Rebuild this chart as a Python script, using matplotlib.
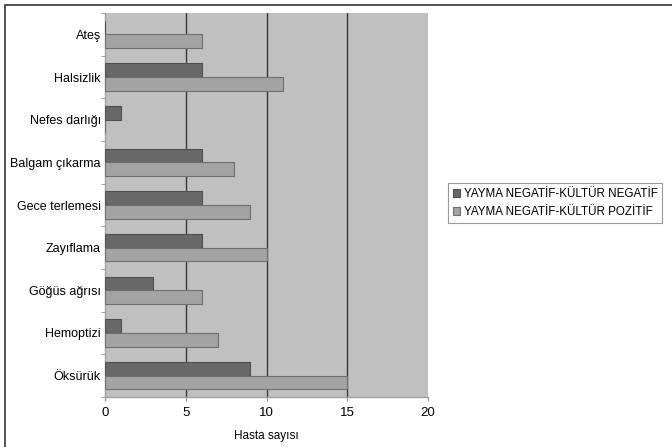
import matplotlib
matplotlib.use("Agg")
import matplotlib.pyplot as plt
import numpy as np
from matplotlib.patches import Rectangle

plt.rcParams['font.family'] = ['Liberation Sans', 'DejaVu Sans']

categories = ["Ateş", "Halsizlik", "Nefes darlığı", "Balgam çıkarma", "Gece terlemesi",
              "Zayıflama", "Göğüs ağrısı", "Hemoptizi", "Öksürük"]
neg_neg = [0, 6, 1, 6, 6, 6, 3, 1, 9]
neg_pos = [6, 11, 0, 8, 9, 10, 6, 7, 15]
series_names = ["YAYMA NEGATİF-KÜLTÜR NEGATİF", "YAYMA NEGATİF-KÜLTÜR POZİTİF"]
xticks = [0, 5, 10, 15, 20]

fig = plt.figure(figsize=(6.72, 4.47), dpi=100)
fig.patch.set_facecolor("white")
ax = fig.add_axes([105/672, 1-397/447, (428-105)/672, (397-13)/447])
ax.set_facecolor("#c0c0c0")

n = len(categories)
pos = np.arange(n)[::-1]
h = 0.32
ax.barh(pos + h/2, neg_neg, height=h, color="#686868", edgecolor="#505050", linewidth=0.8,
        label=series_names[0], zorder=3)
ax.barh(pos - h/2, neg_pos, height=h, color="#a3a3a3", edgecolor="#6e6e6e", linewidth=0.8,
        label=series_names[1], zorder=3)

ax.set_xlim(0, 20)
ax.set_ylim(-0.5, n - 0.5)
for v in [5, 10, 15]:
    ax.axvline(v, color="#3a3a3a", linewidth=1.0, zorder=2)

ax.set_yticks(pos)
ax.set_yticklabels(categories, fontsize=9)
ax.set_yticks(np.arange(-0.5, n), minor=True)
ax.tick_params(axis='y', which='major', length=0, pad=3)
ax.tick_params(axis='y', which='minor', length=3, color="#909090")
ax.set_xticks(xticks)
ax.set_xticklabels([str(t) for t in xticks], fontsize=9.5)
ax.tick_params(axis='x', length=3, color="#909090", pad=4)
ax.set_xlabel("Hasta sayısı", fontsize=8.5, labelpad=8)

for s in ["top", "right"]:
    ax.spines[s].set_visible(False)
for s in ["left", "bottom"]:
    ax.spines[s].set_color("#a0a0a0")
    ax.spines[s].set_linewidth(1.0)

leg = ax.legend(loc="center left", bbox_to_anchor=(446/672, 1 - 203/447),
                bbox_transform=fig.transFigure, fontsize=8.4, frameon=True,
                fancybox=False, edgecolor="#808080", handlelength=0.6, handleheight=0.6,
                handletextpad=0.3, borderpad=0.4, borderaxespad=0.2,
                labelspacing=0.5, shadow=False)
leg.get_frame().set_linewidth(0.8)

# outer chart frame (partially cropped)
fig.patches.append(Rectangle((5/672, -0.05), 1.2, 1 - 5/447 + 0.05, transform=fig.transFigure,
                             fill=False, edgecolor="#333333", linewidth=1.2))

fig.savefig("out.png", dpi=100)
